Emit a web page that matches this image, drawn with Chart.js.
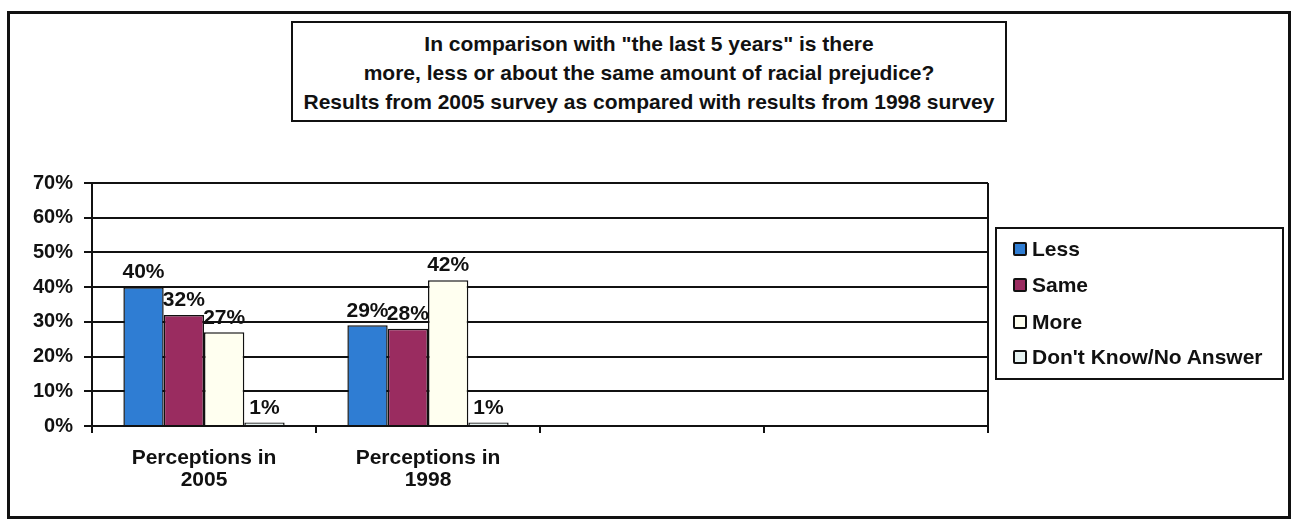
<!DOCTYPE html>
<html>
<head>
<meta charset="utf-8">
<script src="https://cdn.jsdelivr.net/npm/chart.js@4.4.1/dist/chart.umd.min.js"></script>
<style>
  html, body { margin: 0; padding: 0; background: #fff; }
  #wrap { position: relative; width: 1296px; height: 524px; overflow: hidden; font-family: "Liberation Sans", Arial, sans-serif; }
  #c { position: absolute; left: 0; top: 0; }
  #frame { position: absolute; left: 7px; top: 11px; width: 1284px; height: 508px; border: 3px solid #111; box-sizing: border-box; pointer-events: none; }
  #title { position: absolute; left: 291px; top: 21px; width: 716px; height: 101px; border: 2px solid #111; box-sizing: border-box;
           text-align: center; font-weight: bold; font-size: 21px; line-height: 29px; padding-top: 6px; color: #111; background: #fff; }
  #legend { position: absolute; left: 995px; top: 227px; width: 289px; height: 153px; border: 2px solid #111; box-sizing: border-box; background: #fff; }
  .li { position: absolute; left: 16px; height: 24px; display: flex; align-items: center; font-weight: bold; font-size: 21px; color: #111; white-space: nowrap; }
  .sw { width: 14px; height: 14px; border: 2.5px solid #111; box-sizing: border-box; margin-right: 5px; border-radius: 2px; }
</style>
</head>
<body>
<div id="wrap">
  <canvas id="c" width="1296" height="524"></canvas>
  <div id="frame"></div>
  <div id="title"></div>
  <div id="legend"></div>
</div>
<script>
// ---- data ----
const titleLines = [
  'In comparison with "the last 5 years" is there',
  'more, less or about the same amount of racial prejudice?',
  'Results from 2005 survey as compared with results from 1998 survey'
];
const categories = [["Perceptions in", "2005"], ["Perceptions in", "1998"], "", ""];
const seriesNames = ["Less", "Same", "More", "Don't Know/No Answer"];
const lessValues = [40, 29, null, null];
const sameValues = [32, 28, null, null];
const moreValues = [27, 42, null, null];
const dkValues = [1, 1, null, null];
const yTickValues = [0, 10, 20, 30, 40, 50, 60, 70];

// ---- styles ----
const seriesColors = ['#2f7dd3', '#9a2c60', '#fffff0', '#e6f2f1'];
const FONT = '"Liberation Sans", Arial, sans-serif';

document.getElementById('title').innerHTML = titleLines.map(t => '<div>' + t.replace(/</g,'&lt;') + '</div>').join('');

const legendCenters = [20, 56, 93, 128];
const legendEl = document.getElementById('legend');
seriesNames.forEach((n, i) => {
  const d = document.createElement('div');
  d.className = 'li';
  d.style.top = (legendCenters[i] - 12) + 'px';
  const s = document.createElement('span');
  s.className = 'sw';
  s.style.background = seriesColors[i];
  const t = document.createElement('span');
  t.textContent = n;
  d.appendChild(s); d.appendChild(t);
  legendEl.appendChild(d);
});

const valueLabels = {
  id: 'valueLabels',
  afterDatasetsDraw(chart) {
    const ctx = chart.ctx;
    ctx.save();
    ctx.font = 'bold 21px ' + FONT;
    ctx.fillStyle = '#111';
    ctx.textAlign = 'center';
    ctx.textBaseline = 'bottom';
    chart.data.datasets.forEach((ds, di) => {
      const meta = chart.getDatasetMeta(di);
      meta.data.forEach((bar, i) => {
        const v = ds.data[i];
        if (v === null || v === undefined) return;
        ctx.fillText(v + '%', bar.x, bar.y - 4);
      });
    });
    ctx.restore();
  }
};

const rightBorder = {
  id: 'rightBorder',
  afterDraw(chart) {
    const a = chart.chartArea, ctx = chart.ctx;
    ctx.save();
    ctx.strokeStyle = '#111';
    ctx.lineWidth = 2;
    ctx.beginPath();
    ctx.moveTo(a.right, a.top);
    ctx.lineTo(a.right, a.bottom + 6);
    ctx.stroke();
    ctx.restore();
  }
};

new Chart(document.getElementById('c'), {
  type: 'bar',
  data: {
    labels: categories,
    datasets: [lessValues, sameValues, moreValues, dkValues].map((d, i) => ({
      label: seriesNames[i],
      data: d,
      backgroundColor: seriesColors[i],
      borderColor: '#111',
      borderWidth: 1.5,
      barPercentage: 1.0,
      categoryPercentage: 0.72
    }))
  },
  options: {
    responsive: false,
    devicePixelRatio: 1,
    animation: false,
    layout: { padding: { left: 0, top: 183, right: 308, bottom: 0 } },
    plugins: { legend: { display: false }, title: { display: false }, tooltip: { enabled: false } },
    scales: {
      x: {
        offset: true,
        grid: { display: true, drawOnChartArea: false, offset: true, color: '#111', lineWidth: 2, tickLength: 7 },
        border: { display: true, color: '#111', width: 2 },
        ticks: { color: '#111', font: { family: FONT, size: 21, weight: 'bold', lineHeight: 1.05 }, padding: 14, maxRotation: 0, autoSkip: false },
        afterFit(s) { s.height = 98; }
      },
      y: {
        min: 0, max: 70,
        afterBuildTicks(s) { s.ticks = yTickValues.map(v => ({ value: v })); },
        grid: { color: '#111', lineWidth: 2, tickLength: 8 },
        border: { display: true, color: '#111', width: 2 },
        ticks: { color: '#111', font: { family: FONT, size: 20, weight: 'bold' }, padding: 11, callback: v => v + '%' },
        afterFit(s) { s.width = 92; }
      }
    }
  },
  plugins: [valueLabels, rightBorder]
});
</script>
</body>
</html>
